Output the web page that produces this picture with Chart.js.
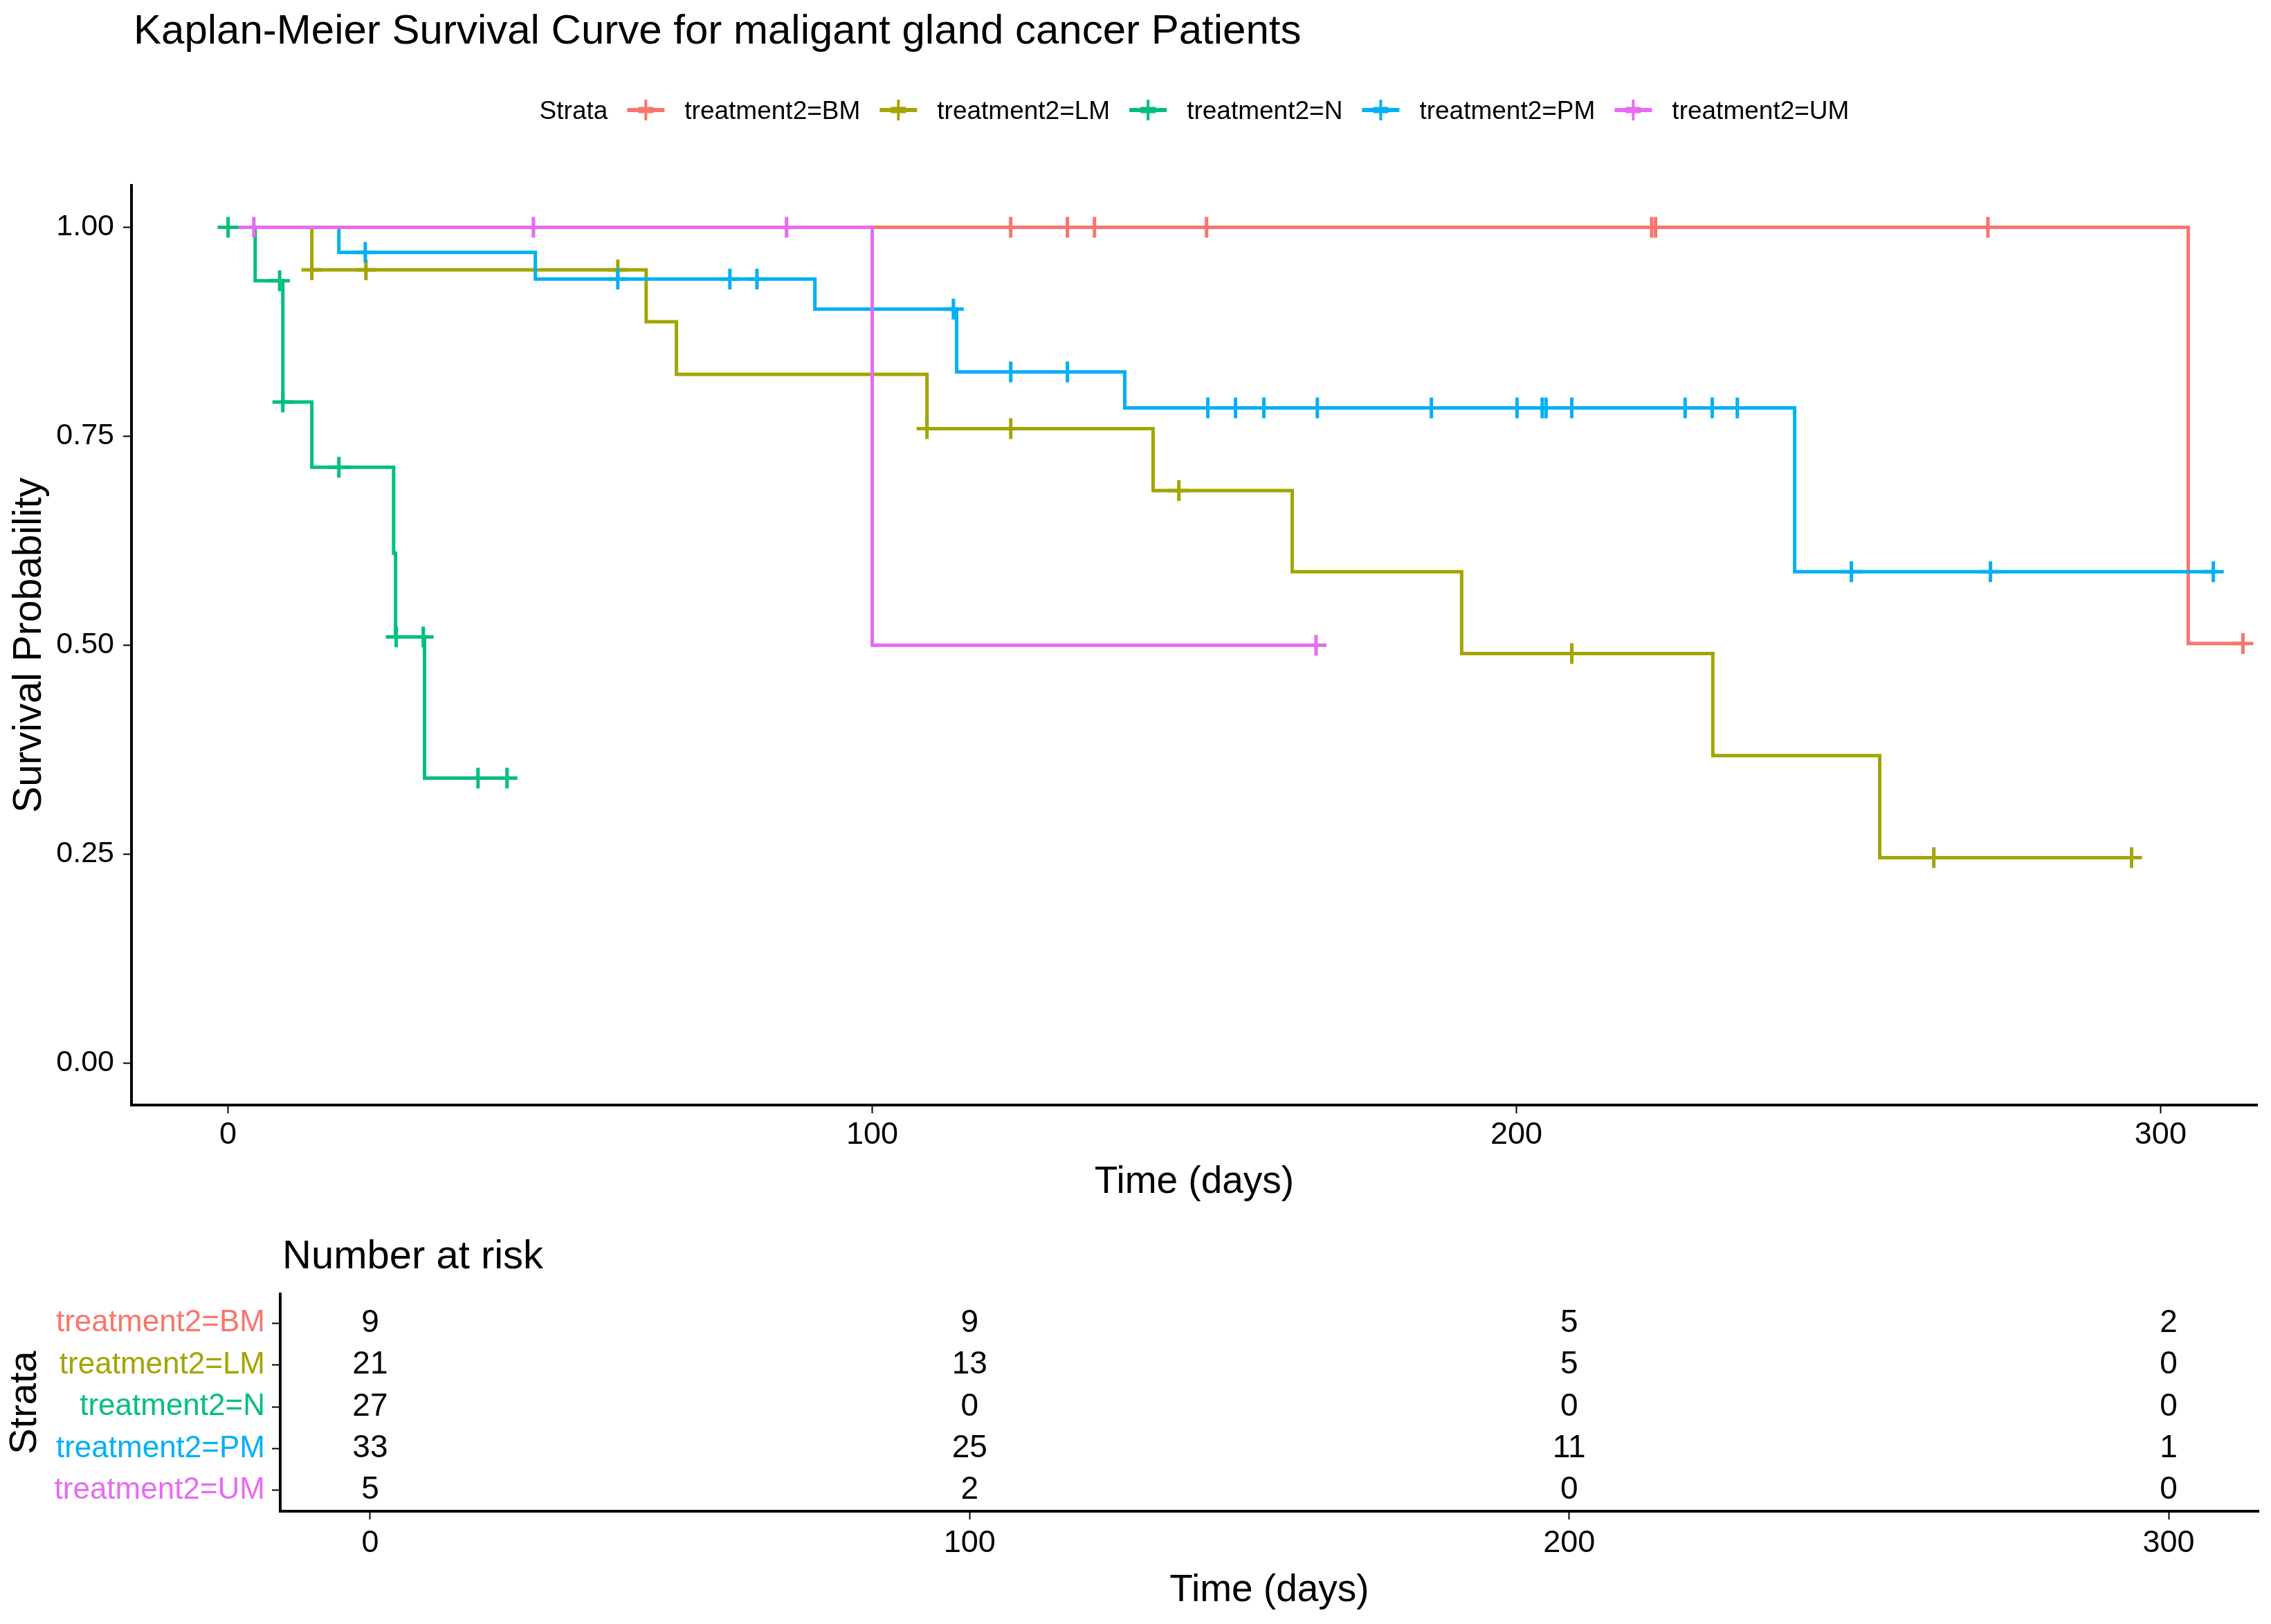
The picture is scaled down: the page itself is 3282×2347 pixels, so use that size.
<!DOCTYPE html>
<html>
<head>
<meta charset="utf-8">
<title>Kaplan-Meier Survival Curve</title>
<script src="https://cdn.jsdelivr.net/npm/chart.js@4.4.1/dist/chart.umd.min.js"></script>
<style>
	html, body { margin: 0; padding: 0; background: #fff; overflow: hidden; }
	#wrap { position: relative; width: 3282px; height: 2347px; }
	canvas { display: block; }
</style>
</head>
<body>
<div id="wrap">
	<canvas id="kmChart" width="3282" height="1764"></canvas>
	<canvas id="riskChart" width="3282" height="583"></canvas>
</div>
<script>
const FONT = "'Liberation Sans', Arial, sans-serif"
const chartTitle = 'Kaplan-Meier Survival Curve for maligant gland cancer Patients'

const strata = ['treatment2=BM', 'treatment2=LM', 'treatment2=N', 'treatment2=PM', 'treatment2=UM']
const strataColors = ['#F8766D', '#A3A500', '#00BF7D', '#00B0F6', '#E76BF3']

// step curves: time (days) and survival after each step
const bmTimes = [0, 304.3, 312.8]
const bmSurv = [1, 0.502, 0.502]
const bmCensor = [121.5, 130.3, 134.5, 151.9, 221.0, 221.6, 273.2, 312.8]

const lmTimes = [0, 13.0, 64.9, 69.6, 108.5, 143.6, 165.2, 191.5, 230.5, 256.4, 295.5]
const lmSurv = [1, 0.949, 0.887, 0.824, 0.759, 0.685, 0.588, 0.490, 0.368, 0.246, 0.246]
const lmCensor = [13.0, 21.4, 60.5, 108.5, 121.5, 147.6, 208.6, 264.8, 295.5]

const nTimes = [0, 4.2, 8.5, 13.0, 25.7, 26.0, 30.5, 43.3]
const nSurv = [1, 0.936, 0.791, 0.713, 0.610, 0.510, 0.341, 0.341]
const nCensor = [0, 8.0, 8.5, 17.2, 26.1, 30.3, 38.8, 43.3]

const pmTimes = [0, 17.2, 47.7, 91.1, 113.1, 139.2, 243.2, 308.2]
const pmSurv = [1, 0.970, 0.938, 0.902, 0.827, 0.784, 0.588, 0.588]
const pmCensor = [21.3, 60.5, 77.9, 82.1, 112.6, 121.5, 130.3, 152.1, 156.4, 160.8, 169.1, 186.8,
	200.1, 204.0, 204.6, 208.6, 226.2, 230.4, 234.3, 252.0, 273.6, 308.2]

const umTimes = [0, 100.0, 168.9]
const umSurv = [1, 0.5, 0.5]
const umCensor = [4.0, 47.4, 86.7, 168.9]

// number at risk table
const riskTimes = [0, 100, 200, 300]
const bmRisk = [9, 9, 5, 2]
const lmRisk = [21, 13, 5, 0]
const nRisk = [27, 0, 0, 0]
const pmRisk = [33, 25, 11, 1]
const umRisk = [5, 2, 0, 0]

const xTicks = [0, 100, 200, 300]
const yTicks = [0, 0.25, 0.5, 0.75, 1]

const curves = [
	{times: bmTimes, surv: bmSurv, censor: bmCensor, risk: bmRisk},
	{times: lmTimes, surv: lmSurv, censor: lmCensor, risk: lmRisk},
	{times: nTimes, surv: nSurv, censor: nCensor, risk: nRisk},
	{times: pmTimes, surv: pmSurv, censor: pmCensor, risk: pmRisk},
	{times: umTimes, surv: umSurv, censor: umCensor, risk: umRisk},
]

function survAt(times, surv, t) {
	let s = surv[0]
	for (let i = 0; i < times.length; i++) {
		if (times[i] <= t) s = surv[i]
	}
	return s
}

function drawKey(ctx, cx, cy, color) {
	ctx.strokeStyle = color
	ctx.lineWidth = 6
	ctx.beginPath()
	ctx.moveTo(cx - 27, cy)
	ctx.lineTo(cx + 27, cy)
	ctx.stroke()
	ctx.lineWidth = 4
	ctx.beginPath()
	ctx.moveTo(cx, cy - 15)
	ctx.lineTo(cx, cy + 15)
	ctx.stroke()
	ctx.lineWidth = 9
	ctx.beginPath()
	ctx.moveTo(cx - 11, cy)
	ctx.lineTo(cx + 11, cy)
	ctx.stroke()
}

const headerPlugin = {
	id: 'header',
	afterDraw(chart) {
		const {ctx, chartArea} = chart
		ctx.save()
		ctx.fillStyle = '#000'
		ctx.textAlign = 'left'
		ctx.textBaseline = 'alphabetic'
		ctx.font = `60px ${FONT}`
		ctx.fillText(chartTitle, chartArea.left + 3, 63)

		// legend row
		ctx.font = `37px ${FONT}`
		ctx.textBaseline = 'middle'
		const gapKey = 55
		const gapText = 56
		const widths = strata.map(s => ctx.measureText(s).width)
		const strataW = ctx.measureText('Strata').width
		const total = strataW + widths.reduce((a, b) => a + b, 0) + strata.length * (gapKey + gapText)
		let x = (chartArea.left + chartArea.right) / 2 - total / 2
		const y = 162
		ctx.fillText('Strata', x, y)
		x += strataW
		strata.forEach((s, i) => {
			const cx = x + gapKey
			drawKey(ctx, cx, y - 3, strataColors[i])
			ctx.fillStyle = '#000'
			ctx.fillText(s, cx + gapText, y)
			x = cx + gapText + widths[i]
		})
		ctx.restore()
	},
}

const riskTextPlugin = {
	id: 'riskText',
	afterDatasetsDraw(chart) {
		const {ctx, chartArea} = chart
		ctx.save()
		ctx.fillStyle = '#000'
		ctx.font = `46px ${FONT}`
		ctx.textAlign = 'center'
		ctx.textBaseline = 'middle'
		chart.data.datasets.forEach((ds, i) => {
			const meta = chart.getDatasetMeta(i)
			meta.data.forEach((pt, j) => {
				ctx.fillText(String(ds.counts[j]), pt.x, pt.y)
			})
		})
		ctx.textAlign = 'left'
		ctx.textBaseline = 'alphabetic'
		ctx.font = `58px ${FONT}`
		ctx.fillText('Number at risk', chartArea.left + 3, 69)
		ctx.restore()
	},
}

const axisGrid = {
	display: true,
	drawOnChartArea: false,
	drawTicks: true,
	tickLength: 12,
	tickWidth: 2,
	tickColor: '#000',
}
const axisBorder = {display: true, color: '#000', width: 4}

// survival curves chart
const kmDatasets = []
curves.forEach((c, i) => {
	kmDatasets.push({
		label: strata[i],
		data: c.times.map((t, j) => ({x: t, y: c.surv[j]})),
		showLine: true,
		stepped: true,
		borderColor: strataColors[i],
		borderWidth: 5,
		pointRadius: 0,
		fill: false,
		order: 10 + (curves.length - i),
	})
})
curves.forEach((c, i) => {
	kmDatasets.push({
		label: strata[i] + ' censor',
		data: c.censor.map(t => ({x: t, y: survAt(c.times, c.surv, t)})),
		showLine: false,
		pointStyle: 'cross',
		pointRadius: 15,
		borderWidth: 5,
		borderColor: strataColors[i],
		backgroundColor: strataColors[i],
		order: curves.length - i,
	})
})

new Chart(document.getElementById('kmChart'), {
	type: 'scatter',
	data: {datasets: kmDatasets},
	plugins: [headerPlugin],
	options: {
		responsive: false,
		devicePixelRatio: 1,
		animation: false,
		events: [],
		layout: {padding: {top: 268, right: 18, left: 0, bottom: 0}},
		plugins: {legend: {display: false}, tooltip: {enabled: false}, title: {display: false}},
		scales: {
			x: {
				type: 'linear',
				min: -15,
				max: 315,
				afterBuildTicks(scale) {
					scale.ticks = xTicks.map(v => ({value: v}))
				},
				afterFit(scale) {
					scale.height = 167
				},
				grid: axisGrid,
				border: axisBorder,
				ticks: {color: '#000', padding: 5, font: {family: FONT, size: 45}},
				title: {
					display: true,
					text: 'Time (days)',
					color: '#000',
					font: {family: FONT, size: 55},
					padding: {top: 0, bottom: 22},
				},
			},
			y: {
				type: 'linear',
				min: -0.05,
				max: 1.05,
				afterBuildTicks(scale) {
					scale.ticks = yTicks.map(v => ({value: v}))
				},
				afterFit(scale) {
					scale.width = 190
				},
				grid: axisGrid,
				border: axisBorder,
				ticks: {
					color: '#000',
					padding: 13,
					font: {family: FONT, size: 43},
					callback: v => Number(v).toFixed(2),
				},
				title: {
					display: true,
					text: 'Survival Probability',
					color: '#000',
					font: {family: FONT, size: 57},
					padding: {top: 9, bottom: 0},
				},
			},
		},
	},
})

// number at risk table
const riskDatasets = curves.map((c, i) => ({
	label: strata[i],
	data: riskTimes.map(t => ({x: t, y: i + 1})),
	counts: c.risk,
	showLine: false,
	pointRadius: 0,
}))

new Chart(document.getElementById('riskChart'), {
	type: 'scatter',
	data: {datasets: riskDatasets},
	plugins: [riskTextPlugin],
	options: {
		responsive: false,
		devicePixelRatio: 1,
		animation: false,
		events: [],
		layout: {padding: {top: 106, right: 18, left: 0, bottom: 0}},
		plugins: {legend: {display: false}, tooltip: {enabled: false}},
		scales: {
			x: {
				type: 'linear',
				min: -15,
				max: 315,
				afterBuildTicks(scale) {
					scale.ticks = riskTimes.map(v => ({value: v}))
				},
				afterFit(scale) {
					scale.height = 163
				},
				grid: axisGrid,
				border: axisBorder,
				ticks: {color: '#000', padding: 8, font: {family: FONT, size: 45}},
				title: {
					display: true,
					text: 'Time (days)',
					color: '#000',
					font: {family: FONT, size: 55},
					padding: {top: 0, bottom: 15},
				},
			},
			y: {
				type: 'linear',
				min: 0.3,
				max: 5.5,
				reverse: true,
				afterBuildTicks(scale) {
					scale.ticks = strata.map((s, i) => ({value: i + 1}))
				},
				afterFit(scale) {
					scale.width = 405
				},
				grid: axisGrid,
				border: axisBorder,
				ticks: {
					padding: 10,
					font: {family: FONT, size: 44},
					color: ctx => strataColors[Math.round(ctx.tick.value) - 1] || '#000',
					callback: v => strata[Math.round(v) - 1],
				},
				title: {
					display: true,
					text: 'Strata',
					color: '#000',
					font: {family: FONT, size: 56},
					padding: {top: 3, bottom: 0},
				},
			},
		},
	},
})
</script>
</body>
</html>
